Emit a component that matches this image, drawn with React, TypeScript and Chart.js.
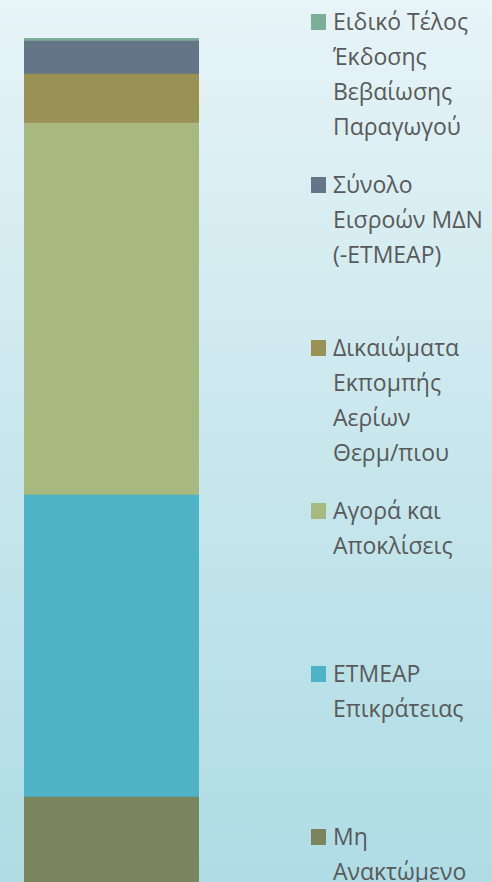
import React, { useEffect, useRef } from "react";
import { Chart, registerables } from "chart.js";

Chart.register(...registerables);

// Data (bottom to top of the stack)
const categories = [""];
const seriesNames = [
  "Μη Ανακτώμενο",
  "ΕΤΜΕΑΡ Επικράτειας",
  "Αγορά και Αποκλίσεις",
  "Δικαιώματα Εκπομπής Αερίων Θερμ/πιου",
  "Σύνολο Εισροών ΜΔΝ (-ΕΤΜΕΑΡ)",
  "Ειδικό Τέλος Έκδοσης Βεβαίωσης Παραγωγού",
];
const legendLines = [
  ["Μη", "Ανακτώμενο"],
  ["ΕΤΜΕΑΡ", "Επικράτειας"],
  ["Αγορά και", "Αποκλίσεις"],
  ["Δικαιώματα", "Εκπομπής", "Αερίων", "Θερμ/πιου"],
  ["Σύνολο", "Εισροών ΜΔΝ", "(-ΕΤΜΕΑΡ)"],
  ["Ειδικό Τέλος", "Έκδοσης", "Βεβαίωσης", "Παραγωγού"],
];
const seriesValues = [60, 151, 186, 24.5, 16.5, 1.5];
const seriesColors = ["#7a845d", "#4fb3c8", "#a7b97f", "#9a9155", "#647588", "#7fae98"];

const total = seriesValues.reduce((a, b) => a + b, 0);

export default function App() {
  const ref = useRef<HTMLCanvasElement | null>(null);

  useEffect(() => {
    if (!ref.current) return;
    const chart = new Chart(ref.current, {
      type: "bar",
      data: {
        labels: categories,
        datasets: seriesNames.map((name, i) => ({
          label: name,
          data: [seriesValues[i]],
          backgroundColor: seriesColors[i],
          borderWidth: 0,
          barPercentage: 1,
          categoryPercentage: 1,
        })),
      },
      options: {
        animation: false,
        responsive: false,
        maintainAspectRatio: false,
        layout: { padding: { left: 24, right: 101, top: 38, bottom: 43 } },
        plugins: { legend: { display: false }, tooltip: { enabled: false } },
        scales: {
          x: { stacked: true, display: false },
          y: { stacked: true, display: false, min: 0, max: total },
        },
      },
    });
    return () => chart.destroy();
  }, []);

  const order = seriesNames.map((_, i) => i).reverse();

  return (
    <div
      style={{
        position: "fixed",
        left: 0,
        top: 0,
        width: 492,
        height: 882,
        overflow: "hidden",
        background: "linear-gradient(to bottom, #e7f4f8 0%, #c6e6ec 55%, #afdce5 100%)",
      }}
    >
      <canvas ref={ref} width={300} height={960} style={{ position: "absolute", left: 0, top: 0 }} />
      {order.map((i, k) => (
        <div
          key={i}
          style={{
            position: "absolute",
            left: 311,
            top: 4 + k * 163,
            fontFamily: "'Open Sans', sans-serif",
            fontSize: 23,
            lineHeight: "35px",
            color: "#595959",
            whiteSpace: "nowrap",
          }}
        >
          <span
            style={{
              position: "absolute",
              left: 0,
              top: 10,
              width: 15,
              height: 16,
              background: seriesColors[i],
            }}
          />
          <div style={{ marginLeft: 22 }}>
            {legendLines[i].map((l, j) => (
              <div key={j}>{l}</div>
            ))}
          </div>
        </div>
      ))}
    </div>
  );
}
